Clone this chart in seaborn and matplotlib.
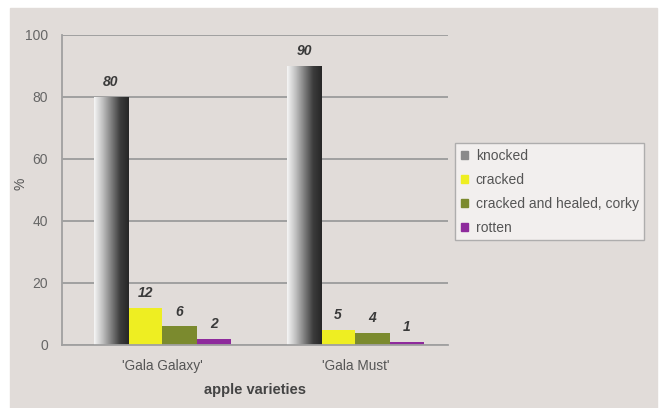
import matplotlib
matplotlib.use("Agg")
import matplotlib.pyplot as plt
import matplotlib.patches as mpatches
import seaborn as sns
import pandas as pd
import numpy as np

# datos
varieties = ["'Gala Galaxy'", "'Gala Must'"]
damage_types = ["knocked", "cracked", "cracked and healed, corky", "rotten"]
gala_galaxy = [80, 12, 6, 2]
gala_must = [90, 5, 4, 1]
colores = ["#8a8a8a", "#eeee22", "#7b8a2e", "#8e2a9c"]

df = pd.DataFrame({
    "variety": [varieties[0]] * 4 + [varieties[1]] * 4,
    "damage": damage_types * 2,
    "value": gala_galaxy + gala_must,
})

bg = "#e1dcd9"
sns.set_style("white")
plt.rcParams["font.family"] = ["Liberation Sans", "DejaVu Sans"]

fig = plt.figure(figsize=(6.62, 4.08), dpi=100)
fig.patch.set_facecolor("white")
# panel gris de fondo
fig.patches.append(mpatches.Rectangle((10 / 662, 0), 647 / 662, 400 / 408,
                                      transform=fig.transFigure, color=bg, zorder=-5))
ax = fig.add_axes([62 / 662, (408 - 345) / 408, (448 - 62) / 662, (345 - 35) / 408])
ax.set_facecolor(bg)

sns.barplot(data=df, x="variety", y="value", hue="damage", hue_order=damage_types,
            palette=colores, width=0.71, saturation=1, ax=ax, legend=False,
            edgecolor="none")

ax.set_ylim(0, 100)
ax.set_xlim(-0.52, 1.48)
ax.set_yticks(range(0, 101, 20))
ax.yaxis.grid(True, color="#a0a0a0", linewidth=1.4)
ax.set_axisbelow(True)
for s in ["top", "right"]:
    ax.spines[s].set_visible(False)
ax.spines["left"].set_color("#a0a0a0")
ax.spines["bottom"].set_color("#a0a0a0")
ax.spines["left"].set_linewidth(1.3)
ax.spines["bottom"].set_linewidth(1.3)
ax.tick_params(axis="y", length=4, color="#a0a0a0", labelsize=10, labelcolor="#666666", pad=6)
ax.tick_params(axis="x", length=0, labelsize=9.8, labelcolor="#555555", pad=10)
ax.set_xticks([0, 1], varieties)
ax.set_xlabel("apple varieties", fontsize=10.5, fontweight="bold", color="#444444", labelpad=7)
ax.set_ylabel("%", fontsize=10, color="#555555")
ax.yaxis.set_label_coords(-0.09, 0.52)

# degradado para las barras "knocked"
grad = np.linspace(0, 1, 256).reshape(1, -1)
cmap = matplotlib.colors.LinearSegmentedColormap.from_list(
    "gris", ["#f6f6f6", "#c0c0c0", "#7e7e7e", "#3c3c3c", "#262626"])
barras = list(ax.patches)
n = len(varieties)
for p in barras[:n]:
    x0, w, h = p.get_x(), p.get_width(), p.get_height()
    im = ax.imshow(grad, extent=[x0, x0 + w, 0, h], aspect="auto", cmap=cmap, zorder=p.get_zorder())
    im.set_clip_path(p)
    p.set_facecolor("none")
ax.set_xlim(-0.52, 1.48)
ax.set_ylim(0, 100)

# etiquetas de valores
for p in barras:
    h = p.get_height()
    ax.text(p.get_x() + p.get_width() / 2, h + 2.5, f"{h:.0f}", ha="center", va="bottom",
            fontsize=10, fontstyle="italic", fontweight="bold", color="#3a3a3a")

# leyenda
handles = [mpatches.Patch(color=c, label=l) for c, l in zip(colores, damage_types)]
leg = fig.legend(handles=handles, loc="upper left", bbox_to_anchor=(455 / 662, 1 - 143 / 408),
                 borderaxespad=0, fontsize=10, frameon=True, fancybox=False,
                 handlelength=0.5, handleheight=0.5, handletextpad=0.6, labelspacing=0.72,
                 borderpad=0.4, labelcolor="#555555")
leg.get_frame().set_facecolor("#f7f5f4")
leg.get_frame().set_edgecolor("#a0a0a0")

fig.savefig("out.png", dpi=100, facecolor=fig.get_facecolor())
